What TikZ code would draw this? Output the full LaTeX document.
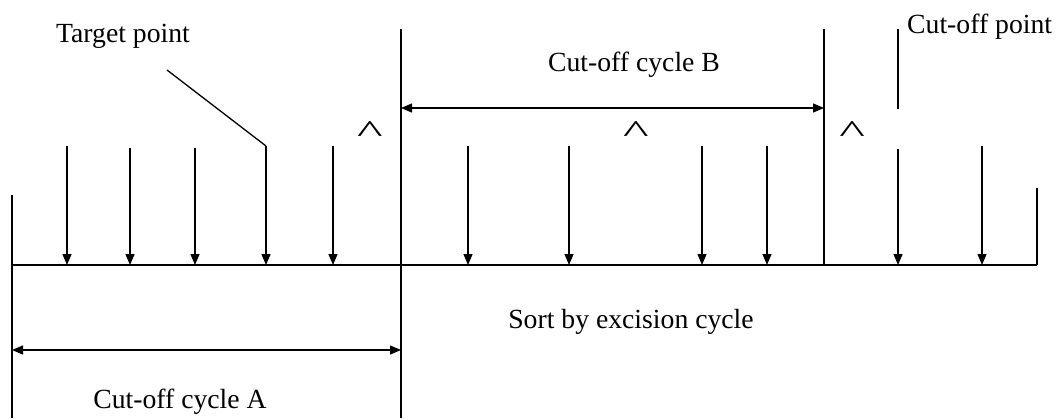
\documentclass[tikz,border=0pt]{standalone}
\usepackage{graphicx}
\usepackage{fontspec}
\setmainfont{Liberation Serif}
\usetikzlibrary{arrows.meta}
\begin{document}
\begin{tikzpicture}[x=1pt,y=-1pt,
  ln/.style={line width=1.3pt},
  tip/.style={ln,-{Triangle[length=11pt,width=9pt]}},
  dim/.style={ln,{Triangle[length=11pt,width=9pt]}-{Triangle[length=11pt,width=9pt]}},
  lbl/.style={font=\fontsize{27.7}{30}\selectfont,inner sep=0pt},
  car/.style={font=\fontsize{32}{32}\selectfont,inner sep=0pt,anchor=north}]
\useasboundingbox (0,0) rectangle (1056,418);
% base line and verticals
\coordinate (L0) at (12,265); \coordinate (R0) at (1037,265);
\draw[ln] (L0) -- (R0);
\coordinate (Ltop) at (12,195); \coordinate (Lbot) at (12,418);
\draw[ln] (Ltop) -- (Lbot);
\coordinate (Mtop) at (401,29); \coordinate (Mbot) at (401,418);
\draw[ln] (Mtop) -- (Mbot);
\coordinate (Ntop) at (824,29); \coordinate (Nbot) at (824,265);
\draw[ln] (Ntop) -- (Nbot);
\coordinate (Rtop) at (1037,188);
\draw[ln] (Rtop) -- (R0);
\coordinate (Ctop) at (898,29); \coordinate (Cbot) at (898,109);
\draw[ln] (Ctop) -- (Cbot);
% arrows
\foreach \x/\t in {67/146,130/148,195/148,333/146,468/146,569/146,702/146,767/146,898/149,982/146}{
  \coordinate (a\x) at (\x,\t); \coordinate (b\x) at (\x,265);
  \draw[tip] (a\x) -- (b\x);
}
\coordinate (tp1) at (167,70); \coordinate (tp2) at (266,146); \coordinate (tp3) at (266,265);
\draw[ln] (tp1) -- (tp2);
\draw[tip] (tp2) -- (tp3);
% dimension arrows
\coordinate (B1) at (401,108); \coordinate (B2) at (824,108);
\draw[dim] (B1) -- (B2);
\coordinate (A1) at (12,350); \coordinate (A2) at (401,350);
\draw[dim] (A1) -- (A2);
% carets
\node[car] (c1) at (370,121) {\scalebox{1.7}[1]{\textasciicircum}};
\node[car] (c2) at (636,121) {\scalebox{1.7}[1]{\textasciicircum}};
\node[car] (c3) at (852,121) {\scalebox{1.7}[1]{\textasciicircum}};
% labels
\node[lbl] (tpt) at (123,36) {Target point};
\node[lbl] (ccb) at (634,65) {Cut-off cycle B};
\node[lbl,anchor=west] (cop) at (907,27) {Cut-off point};
\node[lbl] (sort) at (631,322) {Sort by excision cycle};
\node[lbl] (cca) at (180,402) {Cut-off cycle A};
\end{tikzpicture}
\end{document}
